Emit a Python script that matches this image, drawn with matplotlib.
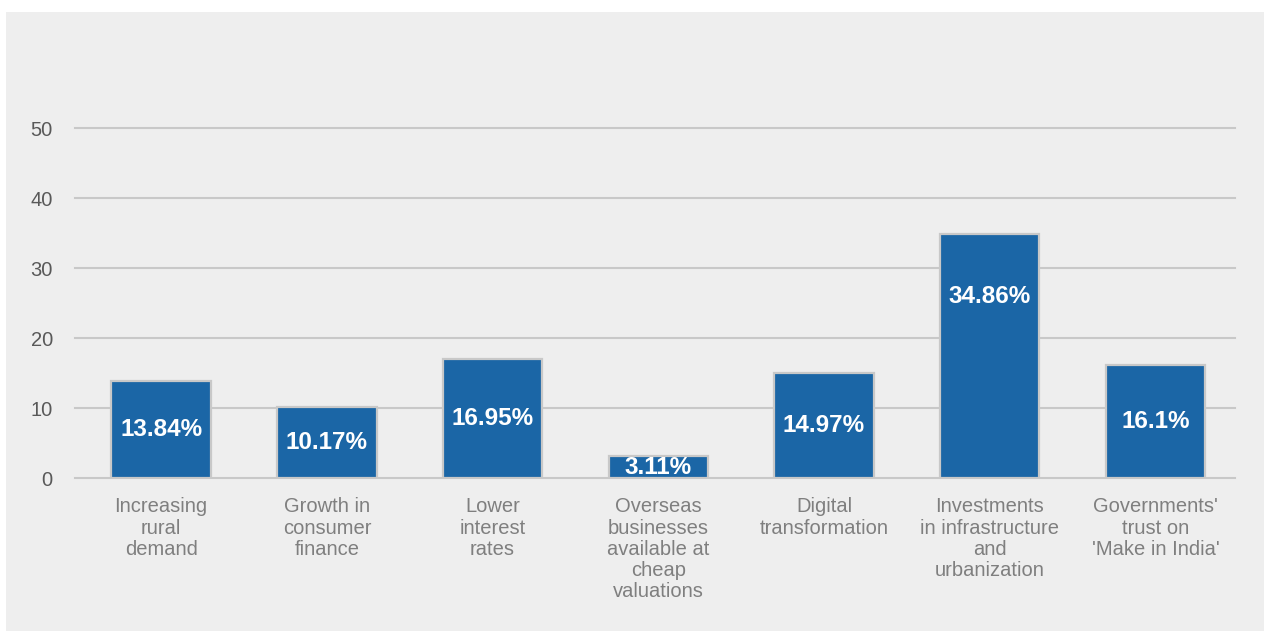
import matplotlib.pyplot as plt

plt.rcParams['font.family'] = ['Liberation Sans', 'DejaVu Sans']

# Survey responses: drivers of growth
categories = ['Increasing\nrural\ndemand', 'Growth in\nconsumer\nfinance', 'Lower\ninterest\nrates',
              'Overseas\nbusinesses\navailable at\ncheap\nvaluations', 'Digital\ntransformation',
              'Investments\nin infrastructure\nand\nurbanization', "Governments'\ntrust on\n'Make in India'"]
values = [13.84, 10.17, 16.95, 3.11, 14.97, 34.86, 16.1]
value_labels = ['13.84%', '10.17%', '16.95%', '3.11%', '14.97%', '34.86%', '16.1%']
yticks = [0, 10, 20, 30, 40, 50]

fig = plt.figure(figsize=(12.64, 6.31), dpi=100)
fig.patch.set_facecolor('white')

# grey panel behind the chart
panel = plt.Rectangle((6/1264, 0), 1258/1264, 619/631, transform=fig.transFigure,
                      facecolor='#eeeeee', edgecolor='none', zorder=-10)
fig.patches.append(panel)

ax = fig.add_axes([75/1264, 153/631, 1160/1264, 350/631])
ax.set_facecolor('none')

x = range(len(categories))
ax.bar(x, values, width=0.6, color='#1b66a6', edgecolor='#c8c8c8', linewidth=1.6, zorder=3)

# value labels sit mid-bar, or near the top for tall bars
for i, (v, lab) in enumerate(zip(values, value_labels)):
    ypos = v / 2 if v < 25 else v - 9
    ax.text(i, ypos, lab, ha='center', va='center', color='white',
            fontsize=17.5, fontweight='bold', zorder=4)

ax.set_xlim(-0.52, 6.48)
ax.set_ylim(0, 50)
ax.set_yticks(yticks)
ax.yaxis.grid(True, color='#c8c8c8', linewidth=1.5, zorder=1)
ax.set_axisbelow(True)
for gl in ax.get_ygridlines():
    gl.set_clip_on(False)
for s in ax.spines.values():
    s.set_visible(False)

ax.set_xticks(list(x))
ax.set_xticklabels(categories, color='#7f7f7f', fontsize=14.5, linespacing=1.15)
ax.tick_params(axis='x', length=0, pad=14)
ax.tick_params(axis='y', length=0, pad=16, labelsize=14.5, labelcolor='#595959')

fig.savefig('out.png', dpi=100)
